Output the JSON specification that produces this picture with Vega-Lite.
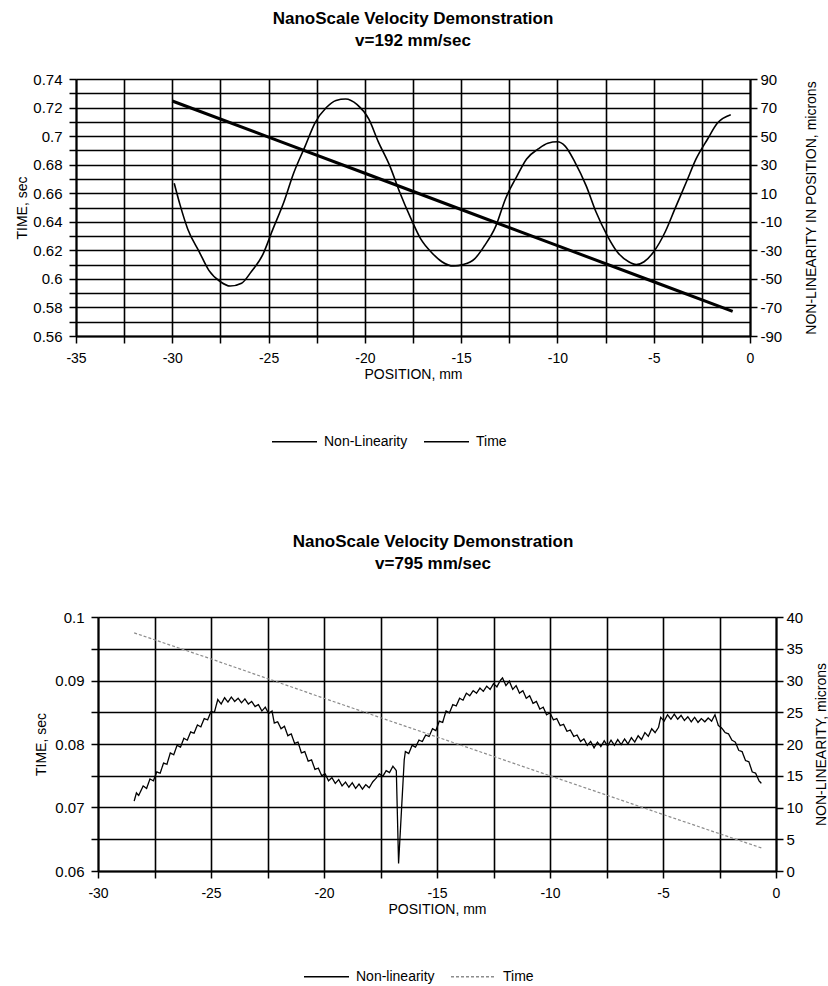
{
  "$schema": "https://vega.github.io/schema/vega-lite/v6.json",
  "background": "white",
  "padding": {"left": 15, "top": 10, "right": 0, "bottom": 0},
  "config": {
    "font": "Liberation Sans",
    "view": {"stroke": null},
    "axis": {
      "labelFont": "Liberation Sans", "labelFontSize": 14, "labelColor": "black",
      "titleFont": "Liberation Sans", "titleFontSize": 14, "titleFontWeight": "normal", "titleColor": "black",
      "domainColor": "black", "domainWidth": 2, "tickColor": "black", "tickWidth": 1.5, "tickSize": 7,
      "gridColor": "black", "gridWidth": 1.6, "gridOpacity": 1
    },
    "title": {"font": "Liberation Sans", "fontSize": 17, "fontWeight": "bold", "color": "black", "lineHeight": 22, "anchor": "middle"},
    "legend": {
      "title": null, "symbolType": "stroke", "direction": "horizontal",
      "symbolSize": 2025, "symbolStrokeWidth": 1.6, "labelFont": "Liberation Sans", "labelFontSize": 14,
      "labelColor": "black", "columnPadding": 12, "labelOffset": 6
    },
    "concat": {"spacing": 84}
  },
  "datasets": {
    "top_time": [
      {"series": "Time", "position": -30, "time": 0.7246},
      {"series": "Time", "position": -25, "time": 0.6993},
      {"series": "Time", "position": -20, "time": 0.6740},
      {"series": "Time", "position": -15, "time": 0.6486},
      {"series": "Time", "position": -10, "time": 0.6233},
      {"series": "Time", "position": -5, "time": 0.5980},
      {"series": "Time", "position": -0.9, "time": 0.5772}
    ],
    "top_nl": [
      {"series": "Non-Linearity", "position": -29.9, "nonlinearity": 17},
      {"series": "Non-Linearity", "position": -29.6, "nonlinearity": 2},
      {"series": "Non-Linearity", "position": -29.2, "nonlinearity": -15},
      {"series": "Non-Linearity", "position": -28.6, "nonlinearity": -31},
      {"series": "Non-Linearity", "position": -28.1, "nonlinearity": -44},
      {"series": "Non-Linearity", "position": -27.5, "nonlinearity": -52},
      {"series": "Non-Linearity", "position": -27.0, "nonlinearity": -55},
      {"series": "Non-Linearity", "position": -26.4, "nonlinearity": -53},
      {"series": "Non-Linearity", "position": -25.9, "nonlinearity": -45},
      {"series": "Non-Linearity", "position": -25.3, "nonlinearity": -33},
      {"series": "Non-Linearity", "position": -24.8, "nonlinearity": -16},
      {"series": "Non-Linearity", "position": -24.2, "nonlinearity": 4},
      {"series": "Non-Linearity", "position": -23.7, "nonlinearity": 24},
      {"series": "Non-Linearity", "position": -23.1, "nonlinearity": 43},
      {"series": "Non-Linearity", "position": -22.6, "nonlinearity": 59},
      {"series": "Non-Linearity", "position": -22.0, "nonlinearity": 70},
      {"series": "Non-Linearity", "position": -21.5, "nonlinearity": 75},
      {"series": "Non-Linearity", "position": -21.0, "nonlinearity": 76},
      {"series": "Non-Linearity", "position": -20.4, "nonlinearity": 72},
      {"series": "Non-Linearity", "position": -19.8, "nonlinearity": 62},
      {"series": "Non-Linearity", "position": -19.3, "nonlinearity": 46},
      {"series": "Non-Linearity", "position": -18.7, "nonlinearity": 29},
      {"series": "Non-Linearity", "position": -18.2, "nonlinearity": 11},
      {"series": "Non-Linearity", "position": -17.6, "nonlinearity": -8},
      {"series": "Non-Linearity", "position": -17.1, "nonlinearity": -22},
      {"series": "Non-Linearity", "position": -16.5, "nonlinearity": -32},
      {"series": "Non-Linearity", "position": -16.0, "nonlinearity": -38},
      {"series": "Non-Linearity", "position": -15.4, "nonlinearity": -41},
      {"series": "Non-Linearity", "position": -14.9, "nonlinearity": -40},
      {"series": "Non-Linearity", "position": -14.3, "nonlinearity": -36},
      {"series": "Non-Linearity", "position": -13.8, "nonlinearity": -27},
      {"series": "Non-Linearity", "position": -13.2, "nonlinearity": -13},
      {"series": "Non-Linearity", "position": -12.7, "nonlinearity": 6},
      {"series": "Non-Linearity", "position": -12.1, "nonlinearity": 22},
      {"series": "Non-Linearity", "position": -11.6, "nonlinearity": 34},
      {"series": "Non-Linearity", "position": -11.0, "nonlinearity": 41},
      {"series": "Non-Linearity", "position": -10.5, "nonlinearity": 45},
      {"series": "Non-Linearity", "position": -10.0, "nonlinearity": 46},
      {"series": "Non-Linearity", "position": -9.6, "nonlinearity": 43},
      {"series": "Non-Linearity", "position": -9.1, "nonlinearity": 32},
      {"series": "Non-Linearity", "position": -8.5, "nonlinearity": 15},
      {"series": "Non-Linearity", "position": -8.0, "nonlinearity": -3},
      {"series": "Non-Linearity", "position": -7.4, "nonlinearity": -20},
      {"series": "Non-Linearity", "position": -6.9, "nonlinearity": -31},
      {"series": "Non-Linearity", "position": -6.3, "nonlinearity": -38},
      {"series": "Non-Linearity", "position": -5.9, "nonlinearity": -40},
      {"series": "Non-Linearity", "position": -5.5, "nonlinearity": -38},
      {"series": "Non-Linearity", "position": -5.0, "nonlinearity": -31},
      {"series": "Non-Linearity", "position": -4.4, "nonlinearity": -17},
      {"series": "Non-Linearity", "position": -3.9, "nonlinearity": -1},
      {"series": "Non-Linearity", "position": -3.3, "nonlinearity": 18},
      {"series": "Non-Linearity", "position": -2.8, "nonlinearity": 34},
      {"series": "Non-Linearity", "position": -2.2, "nonlinearity": 48},
      {"series": "Non-Linearity", "position": -1.7, "nonlinearity": 59},
      {"series": "Non-Linearity", "position": -1.0, "nonlinearity": 65}
    ],
    "bot_time": [
      {"series": "Time", "position": -28.4, "time": 0.0975},
      {"series": "Time", "position": -25, "time": 0.0934},
      {"series": "Time", "position": -20, "time": 0.0872},
      {"series": "Time", "position": -15, "time": 0.0811},
      {"series": "Time", "position": -10, "time": 0.0750},
      {"series": "Time", "position": -5, "time": 0.0689},
      {"series": "Time", "position": -0.62, "time": 0.0636}
    ],
    "bot_nl": [
      {"series": "Non-linearity", "position": -28.4, "nonlinearity": 11.0},
      {"series": "Non-linearity", "position": -28.3, "nonlinearity": 12.3},
      {"series": "Non-linearity", "position": -28.2, "nonlinearity": 11.9},
      {"series": "Non-linearity", "position": -28.0, "nonlinearity": 13.4},
      {"series": "Non-linearity", "position": -27.85, "nonlinearity": 13.0},
      {"series": "Non-linearity", "position": -27.7, "nonlinearity": 14.5},
      {"series": "Non-linearity", "position": -27.55, "nonlinearity": 14.2},
      {"series": "Non-linearity", "position": -27.4, "nonlinearity": 15.6},
      {"series": "Non-linearity", "position": -27.25, "nonlinearity": 15.4},
      {"series": "Non-linearity", "position": -27.1, "nonlinearity": 17.0},
      {"series": "Non-linearity", "position": -26.95, "nonlinearity": 16.8},
      {"series": "Non-linearity", "position": -26.8, "nonlinearity": 18.6},
      {"series": "Non-linearity", "position": -26.65, "nonlinearity": 18.3},
      {"series": "Non-linearity", "position": -26.5, "nonlinearity": 19.8},
      {"series": "Non-linearity", "position": -26.35, "nonlinearity": 19.5},
      {"series": "Non-linearity", "position": -26.2, "nonlinearity": 20.9},
      {"series": "Non-linearity", "position": -26.05, "nonlinearity": 20.6},
      {"series": "Non-linearity", "position": -25.9, "nonlinearity": 21.9},
      {"series": "Non-linearity", "position": -25.75, "nonlinearity": 21.7},
      {"series": "Non-linearity", "position": -25.6, "nonlinearity": 23.0},
      {"series": "Non-linearity", "position": -25.45, "nonlinearity": 22.7},
      {"series": "Non-linearity", "position": -25.3, "nonlinearity": 24.0},
      {"series": "Non-linearity", "position": -25.15, "nonlinearity": 23.8},
      {"series": "Non-linearity", "position": -25.0, "nonlinearity": 25.1},
      {"series": "Non-linearity", "position": -24.85, "nonlinearity": 25.0},
      {"series": "Non-linearity", "position": -24.7, "nonlinearity": 27.0},
      {"series": "Non-linearity", "position": -24.55, "nonlinearity": 26.3},
      {"series": "Non-linearity", "position": -24.4, "nonlinearity": 27.3},
      {"series": "Non-linearity", "position": -24.25, "nonlinearity": 26.6},
      {"series": "Non-linearity", "position": -24.1, "nonlinearity": 27.4},
      {"series": "Non-linearity", "position": -23.95, "nonlinearity": 26.7},
      {"series": "Non-linearity", "position": -23.8, "nonlinearity": 27.2},
      {"series": "Non-linearity", "position": -23.65, "nonlinearity": 26.5},
      {"series": "Non-linearity", "position": -23.5, "nonlinearity": 27.1},
      {"series": "Non-linearity", "position": -23.35, "nonlinearity": 26.3},
      {"series": "Non-linearity", "position": -23.2, "nonlinearity": 26.7},
      {"series": "Non-linearity", "position": -23.05, "nonlinearity": 25.9},
      {"series": "Non-linearity", "position": -22.9, "nonlinearity": 26.2},
      {"series": "Non-linearity", "position": -22.75, "nonlinearity": 25.2},
      {"series": "Non-linearity", "position": -22.6, "nonlinearity": 25.8},
      {"series": "Non-linearity", "position": -22.45, "nonlinearity": 24.8},
      {"series": "Non-linearity", "position": -22.3, "nonlinearity": 25.2},
      {"series": "Non-linearity", "position": -22.2, "nonlinearity": 23.3},
      {"series": "Non-linearity", "position": -22.05, "nonlinearity": 23.5},
      {"series": "Non-linearity", "position": -21.9, "nonlinearity": 22.4},
      {"series": "Non-linearity", "position": -21.75, "nonlinearity": 22.8},
      {"series": "Non-linearity", "position": -21.6, "nonlinearity": 21.3},
      {"series": "Non-linearity", "position": -21.45, "nonlinearity": 21.6},
      {"series": "Non-linearity", "position": -21.3, "nonlinearity": 20.1},
      {"series": "Non-linearity", "position": -21.15, "nonlinearity": 20.3},
      {"series": "Non-linearity", "position": -21.0, "nonlinearity": 18.6},
      {"series": "Non-linearity", "position": -20.85, "nonlinearity": 18.8},
      {"series": "Non-linearity", "position": -20.7, "nonlinearity": 17.3},
      {"series": "Non-linearity", "position": -20.55, "nonlinearity": 17.5},
      {"series": "Non-linearity", "position": -20.4, "nonlinearity": 16.0},
      {"series": "Non-linearity", "position": -20.25, "nonlinearity": 16.2},
      {"series": "Non-linearity", "position": -20.1, "nonlinearity": 15.0},
      {"series": "Non-linearity", "position": -19.95, "nonlinearity": 15.3},
      {"series": "Non-linearity", "position": -19.8, "nonlinearity": 14.2},
      {"series": "Non-linearity", "position": -19.65, "nonlinearity": 14.7},
      {"series": "Non-linearity", "position": -19.5, "nonlinearity": 13.8},
      {"series": "Non-linearity", "position": -19.35, "nonlinearity": 14.4},
      {"series": "Non-linearity", "position": -19.2, "nonlinearity": 13.4},
      {"series": "Non-linearity", "position": -19.05, "nonlinearity": 14.0},
      {"series": "Non-linearity", "position": -18.9, "nonlinearity": 13.2},
      {"series": "Non-linearity", "position": -18.75, "nonlinearity": 13.9},
      {"series": "Non-linearity", "position": -18.6, "nonlinearity": 13.0},
      {"series": "Non-linearity", "position": -18.45, "nonlinearity": 13.7},
      {"series": "Non-linearity", "position": -18.3, "nonlinearity": 12.9},
      {"series": "Non-linearity", "position": -18.15, "nonlinearity": 13.6},
      {"series": "Non-linearity", "position": -18.0, "nonlinearity": 13.1},
      {"series": "Non-linearity", "position": -17.85, "nonlinearity": 14.0},
      {"series": "Non-linearity", "position": -17.7, "nonlinearity": 14.6},
      {"series": "Non-linearity", "position": -17.55, "nonlinearity": 15.3},
      {"series": "Non-linearity", "position": -17.4, "nonlinearity": 14.9},
      {"series": "Non-linearity", "position": -17.25, "nonlinearity": 15.8},
      {"series": "Non-linearity", "position": -17.1, "nonlinearity": 15.5},
      {"series": "Non-linearity", "position": -16.95, "nonlinearity": 16.5},
      {"series": "Non-linearity", "position": -16.8, "nonlinearity": 15.8},
      {"series": "Non-linearity", "position": -16.7, "nonlinearity": 1.2},
      {"series": "Non-linearity", "position": -16.45, "nonlinearity": 17.5},
      {"series": "Non-linearity", "position": -16.4, "nonlinearity": 18.8},
      {"series": "Non-linearity", "position": -16.25, "nonlinearity": 18.5},
      {"series": "Non-linearity", "position": -16.1, "nonlinearity": 19.8},
      {"series": "Non-linearity", "position": -15.95, "nonlinearity": 19.5},
      {"series": "Non-linearity", "position": -15.8, "nonlinearity": 20.6},
      {"series": "Non-linearity", "position": -15.65, "nonlinearity": 20.4},
      {"series": "Non-linearity", "position": -15.5, "nonlinearity": 21.4},
      {"series": "Non-linearity", "position": -15.35, "nonlinearity": 21.2},
      {"series": "Non-linearity", "position": -15.2, "nonlinearity": 22.4},
      {"series": "Non-linearity", "position": -15.05, "nonlinearity": 22.1},
      {"series": "Non-linearity", "position": -14.9, "nonlinearity": 23.6},
      {"series": "Non-linearity", "position": -14.75, "nonlinearity": 23.4},
      {"series": "Non-linearity", "position": -14.6, "nonlinearity": 25.2},
      {"series": "Non-linearity", "position": -14.45, "nonlinearity": 24.9},
      {"series": "Non-linearity", "position": -14.3, "nonlinearity": 26.2},
      {"series": "Non-linearity", "position": -14.15, "nonlinearity": 26.0},
      {"series": "Non-linearity", "position": -14.0, "nonlinearity": 27.2},
      {"series": "Non-linearity", "position": -13.85, "nonlinearity": 26.9},
      {"series": "Non-linearity", "position": -13.7, "nonlinearity": 28.0},
      {"series": "Non-linearity", "position": -13.55, "nonlinearity": 27.6},
      {"series": "Non-linearity", "position": -13.4, "nonlinearity": 28.4},
      {"series": "Non-linearity", "position": -13.25, "nonlinearity": 28.0},
      {"series": "Non-linearity", "position": -13.1, "nonlinearity": 28.8},
      {"series": "Non-linearity", "position": -12.95, "nonlinearity": 28.3},
      {"series": "Non-linearity", "position": -12.8, "nonlinearity": 29.1},
      {"series": "Non-linearity", "position": -12.65, "nonlinearity": 28.6},
      {"series": "Non-linearity", "position": -12.5, "nonlinearity": 29.5},
      {"series": "Non-linearity", "position": -12.35, "nonlinearity": 29.0},
      {"series": "Non-linearity", "position": -12.2, "nonlinearity": 30.0},
      {"series": "Non-linearity", "position": -12.1, "nonlinearity": 30.4},
      {"series": "Non-linearity", "position": -11.95, "nonlinearity": 29.2},
      {"series": "Non-linearity", "position": -11.8, "nonlinearity": 29.9},
      {"series": "Non-linearity", "position": -11.65, "nonlinearity": 28.6},
      {"series": "Non-linearity", "position": -11.5, "nonlinearity": 29.2},
      {"series": "Non-linearity", "position": -11.35, "nonlinearity": 28.0},
      {"series": "Non-linearity", "position": -11.2, "nonlinearity": 28.4},
      {"series": "Non-linearity", "position": -11.05, "nonlinearity": 27.2},
      {"series": "Non-linearity", "position": -10.9, "nonlinearity": 27.6},
      {"series": "Non-linearity", "position": -10.75, "nonlinearity": 26.4},
      {"series": "Non-linearity", "position": -10.6, "nonlinearity": 26.7},
      {"series": "Non-linearity", "position": -10.45, "nonlinearity": 25.5},
      {"series": "Non-linearity", "position": -10.3, "nonlinearity": 25.8},
      {"series": "Non-linearity", "position": -10.15, "nonlinearity": 24.6},
      {"series": "Non-linearity", "position": -10.0, "nonlinearity": 24.9},
      {"series": "Non-linearity", "position": -9.85, "nonlinearity": 23.8},
      {"series": "Non-linearity", "position": -9.7, "nonlinearity": 24.0},
      {"series": "Non-linearity", "position": -9.55, "nonlinearity": 22.9},
      {"series": "Non-linearity", "position": -9.4, "nonlinearity": 23.1},
      {"series": "Non-linearity", "position": -9.25, "nonlinearity": 22.0},
      {"series": "Non-linearity", "position": -9.1, "nonlinearity": 22.2},
      {"series": "Non-linearity", "position": -8.95, "nonlinearity": 21.2},
      {"series": "Non-linearity", "position": -8.8, "nonlinearity": 21.4},
      {"series": "Non-linearity", "position": -8.65, "nonlinearity": 20.4},
      {"series": "Non-linearity", "position": -8.5, "nonlinearity": 20.8},
      {"series": "Non-linearity", "position": -8.35, "nonlinearity": 19.8},
      {"series": "Non-linearity", "position": -8.2, "nonlinearity": 20.4},
      {"series": "Non-linearity", "position": -8.05, "nonlinearity": 19.4},
      {"series": "Non-linearity", "position": -7.9, "nonlinearity": 20.3},
      {"series": "Non-linearity", "position": -7.75, "nonlinearity": 19.6},
      {"series": "Non-linearity", "position": -7.6, "nonlinearity": 20.5},
      {"series": "Non-linearity", "position": -7.45, "nonlinearity": 19.7},
      {"series": "Non-linearity", "position": -7.3, "nonlinearity": 20.6},
      {"series": "Non-linearity", "position": -7.15, "nonlinearity": 19.8},
      {"series": "Non-linearity", "position": -7.0, "nonlinearity": 20.7},
      {"series": "Non-linearity", "position": -6.85, "nonlinearity": 19.9},
      {"series": "Non-linearity", "position": -6.7, "nonlinearity": 20.8},
      {"series": "Non-linearity", "position": -6.55, "nonlinearity": 20.0},
      {"series": "Non-linearity", "position": -6.4, "nonlinearity": 21.0},
      {"series": "Non-linearity", "position": -6.25, "nonlinearity": 20.3},
      {"series": "Non-linearity", "position": -6.1, "nonlinearity": 21.3},
      {"series": "Non-linearity", "position": -5.95, "nonlinearity": 20.7},
      {"series": "Non-linearity", "position": -5.8, "nonlinearity": 21.8},
      {"series": "Non-linearity", "position": -5.65, "nonlinearity": 21.2},
      {"series": "Non-linearity", "position": -5.5, "nonlinearity": 22.4},
      {"series": "Non-linearity", "position": -5.35, "nonlinearity": 21.8},
      {"series": "Non-linearity", "position": -5.2, "nonlinearity": 22.6},
      {"series": "Non-linearity", "position": -5.1, "nonlinearity": 24.2},
      {"series": "Non-linearity", "position": -4.95, "nonlinearity": 23.6},
      {"series": "Non-linearity", "position": -4.8, "nonlinearity": 24.6},
      {"series": "Non-linearity", "position": -4.65, "nonlinearity": 23.9},
      {"series": "Non-linearity", "position": -4.5, "nonlinearity": 24.7},
      {"series": "Non-linearity", "position": -4.35, "nonlinearity": 23.9},
      {"series": "Non-linearity", "position": -4.2, "nonlinearity": 24.5},
      {"series": "Non-linearity", "position": -4.05, "nonlinearity": 23.7},
      {"series": "Non-linearity", "position": -3.9, "nonlinearity": 24.3},
      {"series": "Non-linearity", "position": -3.75, "nonlinearity": 23.5},
      {"series": "Non-linearity", "position": -3.6, "nonlinearity": 24.2},
      {"series": "Non-linearity", "position": -3.45, "nonlinearity": 23.4},
      {"series": "Non-linearity", "position": -3.3, "nonlinearity": 24.0},
      {"series": "Non-linearity", "position": -3.15, "nonlinearity": 23.5},
      {"series": "Non-linearity", "position": -3.0, "nonlinearity": 24.1},
      {"series": "Non-linearity", "position": -2.85, "nonlinearity": 23.6},
      {"series": "Non-linearity", "position": -2.7, "nonlinearity": 24.6},
      {"series": "Non-linearity", "position": -2.55, "nonlinearity": 22.9},
      {"series": "Non-linearity", "position": -2.4, "nonlinearity": 22.5},
      {"series": "Non-linearity", "position": -2.25, "nonlinearity": 21.8},
      {"series": "Non-linearity", "position": -2.1, "nonlinearity": 21.6},
      {"series": "Non-linearity", "position": -1.95, "nonlinearity": 20.6},
      {"series": "Non-linearity", "position": -1.8, "nonlinearity": 20.3},
      {"series": "Non-linearity", "position": -1.65, "nonlinearity": 19.0},
      {"series": "Non-linearity", "position": -1.5, "nonlinearity": 18.8},
      {"series": "Non-linearity", "position": -1.35, "nonlinearity": 17.4},
      {"series": "Non-linearity", "position": -1.2, "nonlinearity": 17.2},
      {"series": "Non-linearity", "position": -1.05, "nonlinearity": 15.6},
      {"series": "Non-linearity", "position": -0.9, "nonlinearity": 15.4},
      {"series": "Non-linearity", "position": -0.75, "nonlinearity": 14.2},
      {"series": "Non-linearity", "position": -0.65, "nonlinearity": 13.8}
    ]
  },
  "vconcat": [
    {
      "title": {"text": ["NanoScale Velocity Demonstration", "v=192 mm/sec"], "offset": 22},
      "width": 674,
      "height": 257,
      "layer": [
        {
          "data": {"name": "top_nl"},
          "mark": {"type": "line", "interpolate": "monotone", "strokeWidth": 1.6},
          "encoding": {
            "x": {"field": "position", "type": "quantitative", "scale": {"domain": [-35, 0]},
              "axis": {"title": "POSITION, mm", "grid": true,
                "values": [-35, -32.5, -30, -27.5, -25, -22.5, -20, -17.5, -15, -12.5, -10, -7.5, -5, -2.5, 0],
                "labelExpr": "datum.value % 5 == 0 ? '' + datum.value : ''",
                "labelPadding": 8, "titlePadding": 2, "labelFlush": false}},
            "y": {"field": "nonlinearity", "type": "quantitative", "scale": {"domain": [-90, 90], "nice": false},
              "axis": {"orient": "right", "title": "NON-LINEARITY IN POSITION, microns", "titleAngle": 270, "titleBaseline": "top",
                "grid": false, "values": [-90, -70, -50, -30, -10, 10, 30, 50, 70, 90],
                "labelExpr": "'' + datum.value", "labelFontSize": 15, "labelPadding": 3, "titlePadding": 23}},
            "color": {"field": "series", "type": "nominal",
              "scale": {"domain": ["Non-Linearity", "Time"], "range": ["black", "black"]},
              "legend": {"orient": "none", "direction": "horizontal", "legendX": 195, "legendY": 339}}
          }
        },
        {
          "data": {"name": "top_time"},
          "mark": {"type": "line", "strokeWidth": 3},
          "encoding": {
            "x": {"field": "position", "type": "quantitative", "scale": {"domain": [-35, 0]}},
            "y": {"field": "time", "type": "quantitative", "scale": {"domain": [0.56, 0.74], "zero": false, "nice": false},
              "axis": {"orient": "left", "title": "TIME, sec", "grid": true,
                "values": [0.56, 0.57, 0.58, 0.59, 0.6, 0.61, 0.62, 0.63, 0.64, 0.65, 0.66, 0.67, 0.68, 0.69, 0.7, 0.71, 0.72, 0.73, 0.74],
                "labelExpr": "round(datum.value * 100) % 2 == 0 ? '' + datum.value : ''",
                "labelFontSize": 15, "labelPadding": 7, "titlePadding": 3}},
            "color": {"field": "series", "type": "nominal",
              "scale": {"domain": ["Non-Linearity", "Time"], "range": ["black", "black"]},
              "legend": {"orient": "none", "direction": "horizontal", "legendX": 195, "legendY": 339}}
          }
        }
      ],
      "resolve": {"scale": {"y": "independent"}}
    },
    {
      "title": {"text": ["NanoScale Velocity Demonstration", "v=795 mm/sec"], "offset": 37, "dx": 7},
      "width": 700,
      "height": 254,
      "layer": [
        {
          "data": {"name": "bot_nl"},
          "mark": {"type": "line", "strokeWidth": 1.3},
          "encoding": {
            "x": {"field": "position", "type": "quantitative", "scale": {"domain": [-30, 0], "range": [22, 700]},
              "axis": {"title": "POSITION, mm", "grid": true,
                "values": [-30, -27.5, -25, -22.5, -20, -17.5, -15, -12.5, -10, -7.5, -5, -2.5, 0],
                "labelExpr": "datum.value % 5 == 0 ? '' + datum.value : ''",
                "labelPadding": 8, "titlePadding": 2, "labelFlush": false}},
            "y": {"field": "nonlinearity", "type": "quantitative", "scale": {"domain": [0, 40], "nice": false},
              "axis": {"orient": "right", "title": "NON-LINEARITY, microns", "titleAngle": 270, "titleBaseline": "top",
                "grid": false, "values": [0, 5, 10, 15, 20, 25, 30, 35, 40],
                "labelExpr": "'' + datum.value", "labelFontSize": 15, "labelPadding": 3, "titlePadding": 12}},
            "color": {"field": "series", "type": "nominal",
              "scale": {"domain": ["Non-linearity", "Time"], "range": ["black", "#8c8c8c"]},
              "legend": {"orient": "none", "direction": "horizontal", "legendX": 227, "legendY": 336}},
            "strokeDash": {"field": "series", "type": "nominal",
              "scale": {"domain": ["Non-linearity", "Time"], "range": [[1, 0], [3, 2]]},
              "legend": {"orient": "none", "direction": "horizontal", "legendX": 227, "legendY": 336}}
          }
        },
        {
          "data": {"name": "bot_time"},
          "mark": {"type": "line", "strokeWidth": 1.2},
          "encoding": {
            "x": {"field": "position", "type": "quantitative", "scale": {"domain": [-30, 0], "range": [22, 700]}},
            "y": {"field": "time", "type": "quantitative", "scale": {"domain": [0.06, 0.1], "zero": false, "nice": false},
              "axis": {"orient": "left", "title": "TIME, sec", "grid": true, "offset": -22,
                "values": [0.06, 0.065, 0.07, 0.075, 0.08, 0.085, 0.09, 0.095, 0.1],
                "labelExpr": "round(datum.value * 1000) % 10 == 0 ? '' + datum.value : ''",
                "labelFontSize": 15, "labelPadding": 7, "titlePadding": 6}},
            "color": {"field": "series", "type": "nominal",
              "scale": {"domain": ["Non-linearity", "Time"], "range": ["black", "#8c8c8c"]},
              "legend": {"orient": "none", "direction": "horizontal", "legendX": 227, "legendY": 336}},
            "strokeDash": {"field": "series", "type": "nominal",
              "scale": {"domain": ["Non-linearity", "Time"], "range": [[1, 0], [3, 2]]},
              "legend": {"orient": "none", "direction": "horizontal", "legendX": 227, "legendY": 336}}
          }
        }
      ],
      "resolve": {"scale": {"y": "independent"}}
    }
  ],
  "resolve": {"scale": {"color": "independent", "strokeDash": "independent"}}
}
